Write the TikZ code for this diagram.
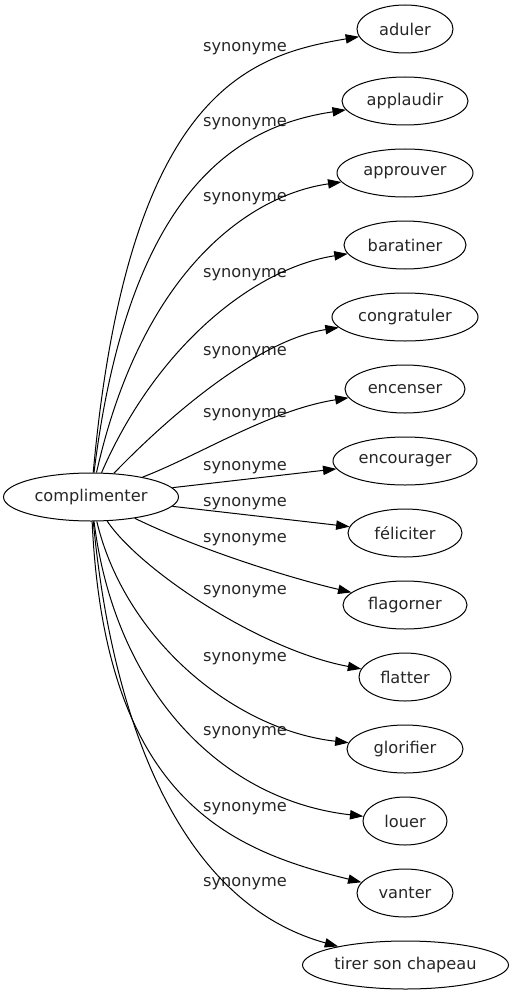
\documentclass[tikz,border=0pt]{standalone}
\usepackage{fontspec}
\setmainfont{DejaVu Sans}
\usetikzlibrary{shapes.geometric,arrows.meta}
\begin{document}
\begin{tikzpicture}[x=0.75pt,y=-0.75pt,
  word/.style={ellipse,draw,line width=0.75pt,minimum height=36pt,inner sep=0pt,
    font=\fontsize{12.15pt}{14pt}\selectfont,text=black!85},
  lab/.style={inner sep=0pt,font=\fontsize{12.15pt}{14pt}\selectfont,text=black!85},
  link/.style={line width=0.75pt,-{Triangle[length=10pt,width=7pt]}}]
\useasboundingbox (0,0) rectangle (513,995);
\node[word,minimum width=131.25pt] (c) at (91,497) {complimenter};
\node[word,minimum width=72pt] (t1) at (405,29) {aduler};
\node[word,minimum width=94.5pt] (t2) at (405,101) {applaudir};
\node[word,minimum width=102pt] (t3) at (405,173) {approuver};
\node[word,minimum width=91.5pt] (t4) at (405,245) {baratiner};
\node[word,minimum width=109.5pt] (t5) at (405,317) {congratuler};
\node[word,minimum width=90pt] (t6) at (405,389) {encenser};
\node[word,minimum width=108pt] (t7) at (405,461) {encourager};
\node[word,minimum width=85.5pt] (t8) at (405,533) {féliciter};
\node[word,minimum width=93pt] (t9) at (405,605) {flagorner};
\node[word,minimum width=69pt] (t10) at (405,677) {flatter};
\node[word,minimum width=87pt] (t11) at (405,749) {glorifier};
\node[word,minimum width=63pt] (t12) at (405,821) {louer};
\node[word,minimum width=72pt] (t13) at (405,893) {vanter};
\node[word,minimum width=154.5pt] (t14) at (405.5,965) {tirer son chapeau};
\node[lab] (l1) at (245,49) {synonyme};
\node[lab] (l2) at (245,124) {synonyme};
\node[lab] (l3) at (245,199) {synonyme};
\node[lab] (l4) at (245,275) {synonyme};
\node[lab] (l5) at (245,353) {synonyme};
\node[lab] (l6) at (245,415) {synonyme};
\node[lab] (l7) at (245,468) {synonyme};
\node[lab] (l8) at (245,504) {synonyme};
\node[lab] (l9) at (245,540) {synonyme};
\node[lab] (l10) at (245,592) {synonyme};
\node[lab] (l11) at (245,659) {synonyme};
\node[lab] (l12) at (245,733) {synonyme};
\node[lab] (l13) at (245,809) {synonyme};
\node[lab] (l14) at (245,884) {synonyme};
\draw[link] (c) .. controls (128,90) and (250,55) .. (t1);
\draw[link] (c) .. controls (130,180) and (245,125) .. (t2);
\draw[link] (c) .. controls (142,270) and (250,195) .. (t3);
\draw[link] (c) .. controls (157,345) and (255,268) .. (t4);
\draw[link] (c) .. controls (175,410) and (260,340) .. (t5);
\draw[link] (c) .. controls (200,455) and (270,410) .. (t6);
\draw[link] (c) -- (t7);
\draw[link] (c) -- (t8);
\draw[link] (c) .. controls (200,550) and (290,578) .. (t9);
\draw[link] (c) .. controls (140,570) and (260,650) .. (t10);
\draw[link] (c) .. controls (125,640) and (235,730) .. (t11);
\draw[link] (c) .. controls (115,690) and (220,800) .. (t12);
\draw[link] (c) .. controls (105,800) and (230,850) .. (t13);
\draw[link] (c) .. controls (110,700) and (170,900) .. (t14);
\end{tikzpicture}
\end{document}
